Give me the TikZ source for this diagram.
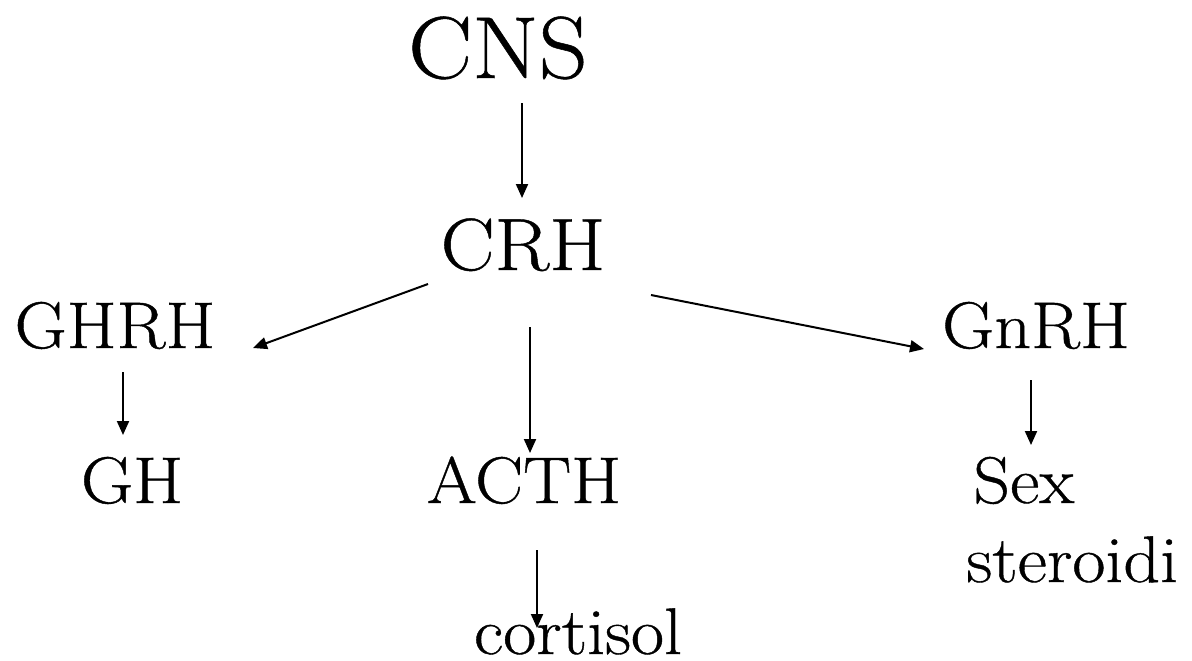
\documentclass[tikz,border=0pt]{standalone}
\usepackage{fontspec}
\setmainfont{Latin Modern Roman}[FakeStretch=1.09,FakeBold=0.6]
\usetikzlibrary{arrows.meta}
\begin{document}
\begin{tikzpicture}[x=0.5pt,y=-0.5pt,
  lbl/.style={inner sep=0pt,anchor=base,font=\fontsize{33}{40}\selectfont},
  arr/.style={line width=1pt,-{Triangle[length=7pt,width=6pt]}}]
\useasboundingbox (0,0) rectangle (1192,660);

% hormone names
\node[lbl,font=\fontsize{44}{52}\selectfont] (cns) at (498,78) {CNS};
\node[lbl,font=\fontsize{37}{46}\selectfont] (crh) at (523,270) {CRH};
\node[lbl] (ghrh) at (115,348) {GHRH};
\node[lbl] (gnrh) at (1036,348) {GnRH};
\node[lbl] (gh) at (132,503) {GH};
\node[lbl] (acth) at (524,503) {ACTH};
\node[lbl] (cort) at (578,654) {cortisol};
\node[lbl,anchor=base west] (sex) at (973,503) {Sex};
\node[lbl,anchor=base west] (ster) at (966,582) {steroidi};

% arrow end points
\coordinate (cnsO) at (522,103);  \coordinate (crhI) at (522,198);
\coordinate (crhL) at (428,284);  \coordinate (ghrhI) at (253,348);
\coordinate (crhR) at (651,295);  \coordinate (gnrhI) at (924,349);
\coordinate (crhD) at (530,327);  \coordinate (acthI) at (530,453);
\coordinate (ghrhO) at (123,372); \coordinate (ghI) at (123,435);
\coordinate (gnrhO) at (1031,380);\coordinate (sexI) at (1031,445);
\coordinate (acthO) at (537,550); \coordinate (cortI) at (537,628);

\draw[arr] (cnsO) -- (crhI);
\draw[arr] (crhL) -- (ghrhI);
\draw[arr] (crhR) -- (gnrhI);
\draw[arr] (crhD) -- (acthI);
\draw[arr] (ghrhO) -- (ghI);
\draw[arr] (gnrhO) -- (sexI);
\draw[arr] (acthO) -- (cortI);
\end{tikzpicture}
\end{document}
